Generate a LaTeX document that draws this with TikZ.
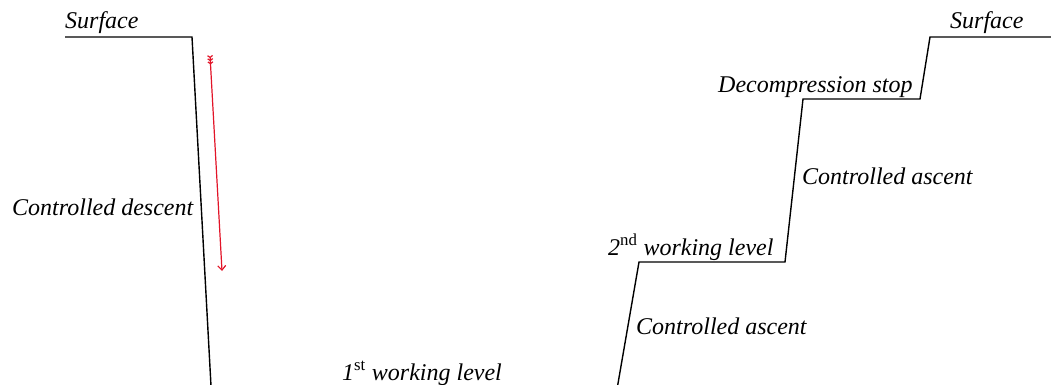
\documentclass[tikz,border=0pt]{standalone}
\usepackage{fontspec}
\setmainfont{Liberation Serif}
\usetikzlibrary{arrows.meta}
\definecolor{arrowred}{RGB}{226,20,40}
\newcommand{\supup}[1]{\textsuperscript{\upshape #1}}
\begin{document}
\begin{tikzpicture}[x=1pt,y=-1pt,
  lbl/.style={anchor=base west,inner sep=0pt,font=\fontsize{24}{28}\selectfont\itshape},
  profile/.style={line width=1.4pt,line join=miter},
  redarrow/.style={draw=arrowred,line width=1.2pt,
    arrows={Straight Barb[reversed,length=1.8pt,width=5pt]Straight Barb[reversed,length=1.8pt,width=5pt]Straight Barb[reversed,length=1.8pt,width=5pt]-Straight Barb[length=4.5pt,width=8pt]}}]
\useasboundingbox (0,0) rectangle (1051,385);
\begin{scope}
\clip (0,0) rectangle (1051,385);
\coordinate (s0) at (65,37);
\coordinate (s1) at (192,37);
\coordinate (b0) at (211.5,395);
\coordinate (b1) at (616,395);
\coordinate (w2a) at (639,262);
\coordinate (w2b) at (785,262);
\coordinate (d0) at (803,99);
\coordinate (d1) at (920,99);
\coordinate (t0) at (930,37);
\coordinate (t1) at (1060,37);
\draw[profile] (s0) -- (s1) -- (b0) -- (b1) -- (w2a) -- (w2b) -- (d0) -- (d1) -- (t0) -- (t1);
\end{scope}
\coordinate (a0) at (210,55);
\coordinate (a1) at (222,271);
\draw[redarrow] (a0) -- (a1);
\node[lbl] (surfL) at (65,29) {Surface};
\node[lbl] (surfR) at (950,29) {Surface};
\node[lbl] (desc) at (12,215) {Controlled descent};
\node[lbl] (deco) at (718,93) {Decompression stop};
\node[lbl] (asc1) at (802,184) {Controlled ascent};
\node[lbl] (wl2) at (608,255) {2\supup{nd} working level};
\node[lbl] (asc2) at (636,334) {Controlled ascent};
\node[lbl] (wl1) at (342,380) {1\supup{st} working level};
\end{tikzpicture}
\end{document}
